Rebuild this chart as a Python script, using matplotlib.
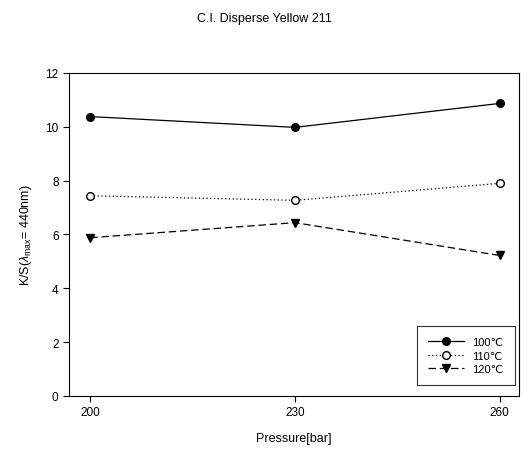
import matplotlib
matplotlib.use("Agg")
import matplotlib.pyplot as plt

plt.rcParams["font.family"] = ["Liberation Sans", "DejaVu Sans"]
plt.rcParams["mathtext.fontset"] = "custom"
plt.rcParams["mathtext.rm"] = "Liberation Sans"
plt.rcParams["mathtext.it"] = "Liberation Sans:italic"

pressure = [200, 230, 260]
ks_100 = [10.38, 9.98, 10.87]
ks_110 = [7.44, 7.27, 7.90]
ks_120 = [5.88, 6.44, 5.22]

fig = plt.figure(figsize=(5.28, 4.52), dpi=100)
ax = fig.add_axes([0.1307, 0.1217, 0.852, 0.7146])

ax.plot(pressure, ks_100, color="black", lw=0.9, ls="-", marker="o",
        ms=5.5, mfc="black", mec="black", label="100\u2103")
ax.plot(pressure, ks_110, color="black", lw=0.9, ls=(0, (1, 2)), marker="o",
        ms=5.5, mfc="white", mec="black", label="110\u2103")
ax.plot(pressure, ks_120, color="black", lw=0.9, ls=(0, (6, 3)), marker="v",
        ms=5.5, mfc="black", mec="black", label="120\u2103")

ax.set_xlim(196.9, 262.8)
ax.set_ylim(0, 12)
ax.set_xticks(pressure)
ax.set_yticks(range(0, 13, 2))
ax.tick_params(direction="out", labelsize=8.5, length=4, width=0.8)
for s in ax.spines.values():
    s.set_linewidth(0.8)

ax.set_xlabel("Pressure[bar]", fontsize=9, labelpad=10)
ax.set_ylabel(r"K/S($\lambda_{\mathrm{max}}$= 440nm)", fontsize=9, labelpad=8)
fig.text(0.5, 0.958, "C.I. Disperse Yellow 211", ha="center", va="center", fontsize=9)

leg = ax.legend(loc="lower right", fontsize=8, frameon=True, fancybox=False,
                edgecolor="black", handlelength=3.2, borderpad=1.0,
                borderaxespad=0, labelspacing=0.3,
                bbox_to_anchor=(0.991, 0.034))
leg.get_frame().set_linewidth(0.8)

fig.savefig("out.png", dpi=100)
